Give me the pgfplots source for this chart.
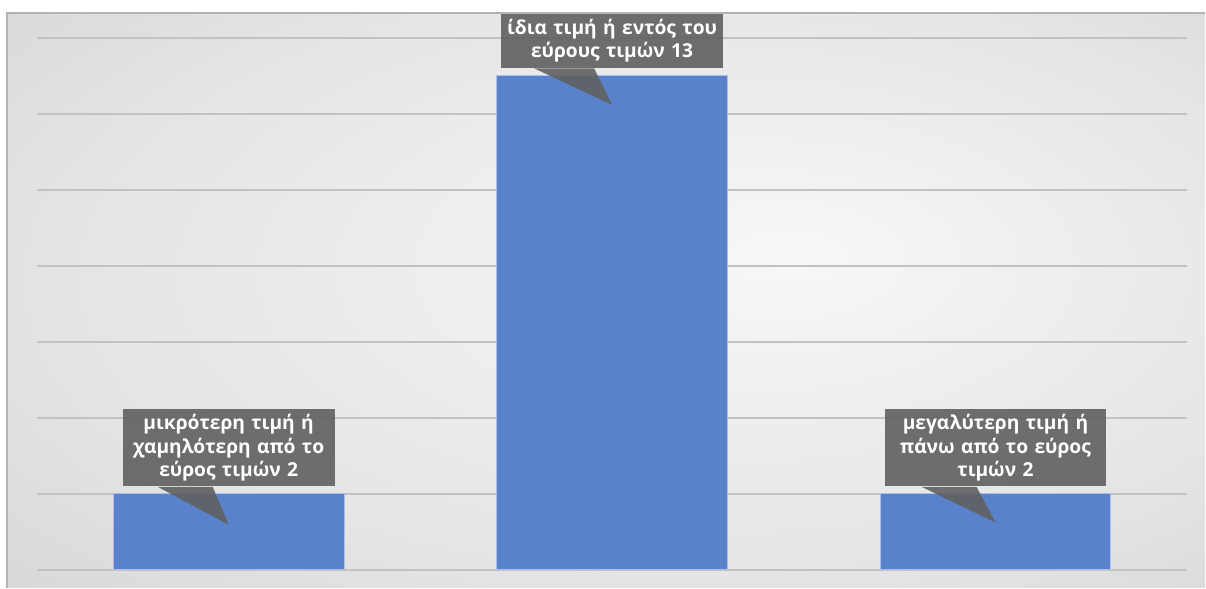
\documentclass[border=0pt]{standalone}
\usepackage{pgfplots}
\pgfplotsset{compat=1.18}
\usepackage{fontspec}
\setmainfont{Open Sans}
\definecolor{barblue}{RGB}{89,130,202}
\definecolor{baredge}{RGB}{170,192,232}
\definecolor{boxgray}{RGB}{96,96,96}
\pgfdeclareradialshading{bgshade}{\pgfpoint{8bp}{4bp}}{color(0bp)=(white!97!black); color(25bp)=(white!90!black); color(50bp)=(white!80!black)}
\tikzset{
  cbox/.style={fill=boxgray, fill opacity=0.9, text opacity=1, text=white,
    font=\fontsize{9.6}{11.6}\selectfont\bfseries, align=center,
    inner xsep=2pt, inner ysep=2.8pt},
  cptr/.style={fill=boxgray, fill opacity=0.9},
}
\begin{document}
\begin{tikzpicture}
\fill[white] (0,0) rectangle (603pt,294pt);
\shade[shading=bgshade] (3.5pt,0) rectangle (603pt,287.5pt);
\draw[black!30, line width=0.8pt] (3.5pt,0) -- (3.5pt,287.5pt) -- (603pt,287.5pt);
\begin{axis}[
  at={(18.5pt,9pt)}, anchor=south west,
  scale only axis, width=575.5pt, height=266pt,
  xmin=-0.5, xmax=2.5, ymin=0, ymax=14,
  ytick={0,2,...,14}, yticklabels={}, xtick=\empty,
  ymajorgrids, grid style={black!24, line width=1pt},
  axis line style={draw=none}, tick style={draw=none},
  ybar, bar width=115.5pt, clip=false,
]
\addplot[fill=barblue, draw=baredge, line width=0.5pt] coordinates {(0,2) (1,13) (2,2)};
\node[cbox, text width=102pt, anchor=south] (c1) at (axis cs:0,2.18) {μικρότερη τιμή ή\\χαμηλότερη από το\\εύρος τιμών 2};
\fill[cptr] ([xshift=-35.5pt]c1.south) -- (axis cs:0,1.18) -- ([xshift=-8pt]c1.south) -- cycle;
\node[cbox, text width=107pt, anchor=south] (c2) at (axis cs:1,13.2) {ίδια τιμή ή εντός του\\εύρους τιμών 13};
\fill[cptr] ([xshift=-39pt]c2.south) -- (axis cs:1,12.24) -- ([xshift=-9pt]c2.south) -- cycle;
\node[cbox, text width=107pt, anchor=south] (c3) at (axis cs:2,2.18) {μεγαλύτερη τιμή ή\\πάνω από το εύρος\\τιμών 2};
\fill[cptr] ([xshift=-37pt]c3.south) -- (axis cs:2,1.24) -- ([xshift=-9.5pt]c3.south) -- cycle;
\end{axis}
\end{tikzpicture}
\end{document}
